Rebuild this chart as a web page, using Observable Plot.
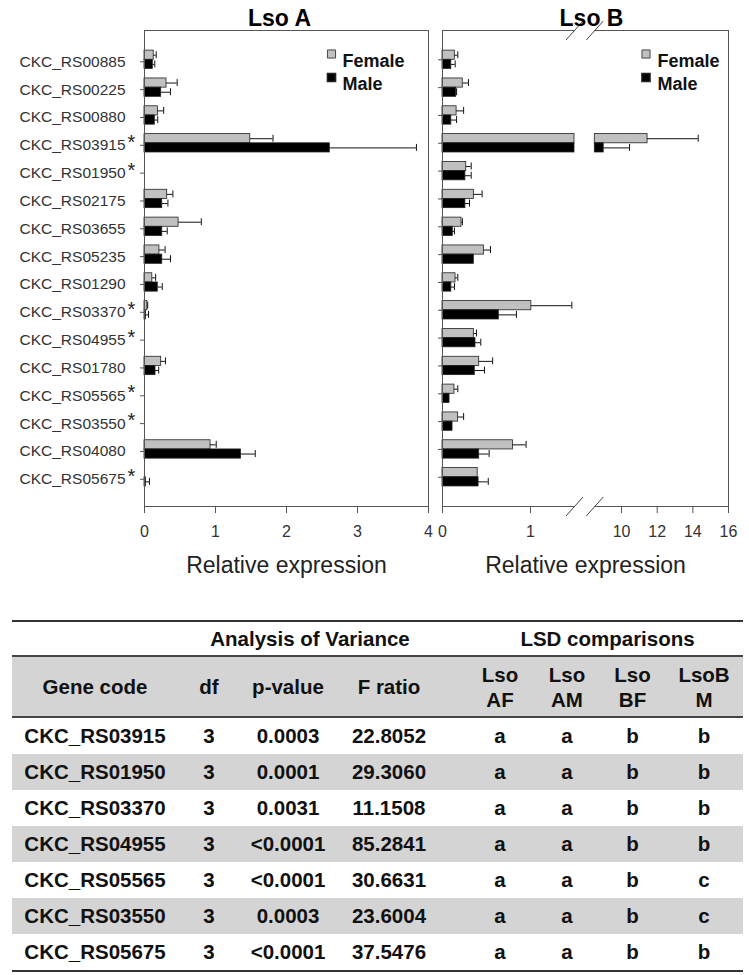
<!DOCTYPE html>
<html><head><meta charset="utf-8">
<script src="https://cdn.jsdelivr.net/npm/d3@7"></script>
<script src="https://cdn.jsdelivr.net/npm/@observablehq/plot@0.6"></script>
<style>
body{margin:0;background:#fff;font-family:"Liberation Sans",Arial,sans-serif;}
#charts{display:flex;width:749px;height:600px;}
#charts svg{display:block;}
table{border-collapse:collapse;table-layout:fixed;margin:20px 0 0 12px;width:731px;font-weight:bold;font-size:20.5px;color:#111;}
td{text-align:center;padding:0;}
tr.top td{height:33px;border-top:2px solid #333;}
tr.head td{height:59px;background:#d4d4d4;border-top:2px solid #444;border-bottom:2px solid #444;line-height:25px;}
tr.data td{height:36px;}
tr.data.gray td{background:#d4d4d4;}
tr.data.last td{border-bottom:2px solid #333;}
</style></head>
<body>
<div id="charts"></div>
<table id="tbl"></table>
<script>
// ---- chart data ----
const genes = ["CKC_RS00885","CKC_RS00225","CKC_RS00880","CKC_RS03915","CKC_RS01950","CKC_RS02175","CKC_RS03655","CKC_RS05235","CKC_RS01290","CKC_RS03370","CKC_RS04955","CKC_RS01780","CKC_RS05565","CKC_RS03550","CKC_RS04080","CKC_RS05675"];
const starred = ["CKC_RS03915","CKC_RS01950","CKC_RS03370","CKC_RS04955","CKC_RS05565","CKC_RS03550","CKC_RS05675"];
const aFemale    = [0.13,0.31,0.19,1.49,0,0.32,0.48,0.21,0.11,0.04,0,0.235,0,0,0.93,0];
const aFemaleErr = [0.035,0.15,0.08,0.32,0,0.08,0.32,0.08,0.047,0.005,0,0.06,0,0,0.08,0];
const aMale      = [0.117,0.235,0.145,2.61,0,0.25,0.25,0.25,0.187,0.02,0,0.155,0,0,1.36,0.02];
const aMaleErr   = [0.028,0.13,0.042,1.22,0,0.08,0.07,0.116,0.063,0.036,0,0.045,0,0,0.2,0.05];
const bFemale    = [0.14,0.23,0.16,11.46,0.27,0.356,0.216,0.47,0.148,1.01,0.356,0.417,0.136,0.178,0.80,0.40];
const bFemaleErr = [0.034,0.065,0.08,2.84,0.056,0.094,0.01,0.075,0.026,0.46,0.03,0.153,0.038,0.062,0.15,0];
const bMale      = [0.10,0.155,0.10,9.0,0.26,0.26,0.117,0.356,0.10,0.64,0.375,0.367,0.08,0.114,0.417,0.41];
const bMaleErr   = [0.044,0.005,0.06,1.45,0.066,0.047,0.019,0,0.036,0.20,0.06,0.11,0,0,0.113,0.11];
const aTicks = [0,1,2,3,4];
const bTicks = [0,1,10,12,14,16];
const bBreak = [1.5, 8.5];
const panelTitles = ["Lso A","Lso B"];
const seriesNames = ["Female","Male"];
const axisTitle = "Relative expression";

// ---- table data ----
const tGenes = ["CKC_RS03915","CKC_RS01950","CKC_RS03370","CKC_RS04955","CKC_RS05565","CKC_RS03550","CKC_RS05675"];
const tDf = [3,3,3,3,3,3,3];
const tP = ["0.0003","0.0001","0.0031","<0.0001","<0.0001","0.0003","<0.0001"];
const tF = ["22.8052","29.3060","11.1508","85.2841","30.6631","23.6004","37.5476"];
const lsdAF = ["a","a","a","a","a","a","a"];
const lsdAM = ["a","a","a","a","a","a","a"];
const lsdBF = ["b","b","b","b","b","b","b"];
const lsdBM = ["b","b","b","b","c","c","b"];
const tHeaders = ["Gene code","df","p-value","F ratio","Lso<br>AF","Lso<br>AM","Lso<br>BF","LsoB<br>M"];
const tGroups = ["Analysis of Variance","LSD comparisons"];

const FONT = '"Liberation Sans", Arial, sans-serif';
const H = 600, yDomain = [-1.053, 16.05], yRange = [30, 506];
const bh = 0.33;
const FEM = "#c0c0c0", MAL = "#000000", EDGE = "#222", FRAME = "#555";
const idx = d3.range(genes.length);

function rows(F, Fe, M, Me) {
  return idx.map(i => ({i, f: F[i], fe: Fe[i], m: M[i], me: Me[i], star: starred.includes(genes[i])}));
}
function errMarks(rs) {
  const f = rs.filter(d => d.fe > 0), m = rs.filter(d => d.me > 0);
  return [
    Plot.ruleY(f, {y: d => d.i - bh/2, x1: "f", x2: d => d.f + d.fe, stroke: "#111"}),
    Plot.ruleX(f, {x: d => d.f + d.fe, y1: d => d.i - bh + 0.04, y2: d => d.i - 0.04, stroke: "#111"}),
    Plot.ruleY(m, {y: d => d.i + bh/2, x1: "m", x2: d => d.m + d.me, stroke: "#111"}),
    Plot.ruleX(m, {x: d => d.m + d.me, y1: d => d.i + 0.04, y2: d => d.i + bh - 0.04, stroke: "#111"})
  ];
}
function legend(sqDx, txDx) {
  return [
    Plot.dot([0], {frameAnchor: "top-right", dx: sqDx, dy: 23.5, symbol: "square", r: 4.6, fill: FEM, stroke: EDGE, strokeWidth: 0.8}),
    Plot.dot([0], {frameAnchor: "top-right", dx: sqDx, dy: 47, symbol: "square", r: 4.6, fill: MAL, stroke: EDGE}),
    Plot.text([seriesNames[0]], {frameAnchor: "top-right", dx: txDx, dy: 23.5, textAnchor: "start", fontSize: 18, fontWeight: "bold", fill: "#111"}),
    Plot.text([seriesNames[1]], {frameAnchor: "top-right", dx: txDx, dy: 47, textAnchor: "start", fontSize: 18, fontWeight: "bold", fill: "#111"})
  ];
}
function titles(t, dx) {
  return [
    Plot.text([t], {frameAnchor: "top", dy: -20.4, dx, fontSize: 23, fontWeight: "bold", fill: "#000"}),
    Plot.text([axisTitle], {frameAnchor: "bottom", dy: 66, fontSize: 23, fill: "#222"})
  ];
}

// ---- Panel A ----
const rA = rows(aFemale, aFemaleErr, aMale, aMaleErr);
const plotA = Plot.plot({
  width: 437, height: H, marginLeft: 144, marginRight: 9, marginTop: 30, marginBottom: 94,
  style: {fontFamily: FONT, background: "white", color: "#333", overflow: "visible"},
  x: {domain: [0, 4], range: [144, 428]},
  y: {domain: yDomain, range: yRange},
  marks: [
    Plot.rect(rA.filter(d => d.f > 0), {x1: 0, x2: "f", y1: d => d.i - bh, y2: "i", fill: FEM, stroke: EDGE, strokeWidth: 0.8}),
    Plot.rect(rA.filter(d => d.m > 0), {x1: 0, x2: "m", y1: "i", y2: d => d.i + bh, fill: MAL, stroke: EDGE, strokeWidth: 0.8}),
    ...errMarks(rA),
    Plot.frame({stroke: FRAME}),
    Plot.axisX(aTicks, {tickSize: 7, tickPadding: 12, fontSize: 16, label: null, stroke: FRAME}),
    Plot.axisY(idx, {tickFormat: i => genes[i], tickSize: 4, tickPadding: 15, fontSize: 15.5, label: null, stroke: FRAME, dy: 2}),
    Plot.text(rA.filter(d => d.star), {x: 0, y: "i", text: () => "*", dx: -17, dy: -1, textAnchor: "start", fontSize: 20, fill: "#222"}),
    ...legend(-97, -86),
    ...titles(panelTitles[0], -7)
  ]
});

// ---- Panel B (broken axis via a piecewise transform of the linear x scale) ----
const xs = d3.scaleLinear([0, bBreak[0], bBreak[1], 16], [0, 132, 152.3, 286]);
const rB = rows(bFemale, bFemaleErr, bMale, bMaleErr);
const segs = (key) => rB.filter(d => d[key] > 0).flatMap(d => {
  const out = [{i: d.i, x1: 0, x2: Math.min(d[key], bBreak[0])}];
  if (d[key] > bBreak[1]) out.push({i: d.i, x1: bBreak[1], x2: d[key]});
  return out;
});
const ys = d3.scaleLinear(yDomain, yRange);
const slashes = [];
for (const b of bBreak) for (const yv of yDomain)
  slashes.push({x1: xs.invert(xs(b) - 8.5), x2: xs.invert(xs(b) + 8.5), y1: ys.invert(ys(yv) + 9.5), y2: ys.invert(ys(yv) - 9.5)});
const edges = [{x1: 0, x2: bBreak[0]}, {x1: bBreak[1], x2: 16}].flatMap(s => yDomain.map(y => ({...s, y})));

const plotB = Plot.plot({
  width: 312, height: H, marginLeft: 5, marginRight: 21, marginTop: 30, marginBottom: 94,
  style: {fontFamily: FONT, background: "white", color: "#333", overflow: "visible"},
  x: {transform: v => xs(v), domain: [0, 286], range: [5, 291]},
  y: {domain: yDomain, range: yRange},
  marks: [
    Plot.rect(segs("f"), {x1: "x1", x2: "x2", y1: d => d.i - bh, y2: "i", fill: FEM, stroke: EDGE, strokeWidth: 0.8}),
    Plot.rect(segs("m"), {x1: "x1", x2: "x2", y1: "i", y2: d => d.i + bh, fill: MAL, stroke: EDGE, strokeWidth: 0.8}),
    ...errMarks(rB),
    Plot.ruleX([0, 16], {y1: yDomain[0], y2: yDomain[1], stroke: FRAME}),
    Plot.ruleY(edges, {y: "y", x1: "x1", x2: "x2", stroke: FRAME}),
    Plot.link(slashes, {x1: "x1", y1: "y1", x2: "x2", y2: "y2", stroke: "#444"}),
    Plot.axisX(bTicks, {tickSize: 7, tickPadding: 12, fontSize: 16, label: null, stroke: FRAME, tickFormat: d => String(d)}),
    Plot.axisY(idx, {tickFormat: () => "", tickSize: 4, label: null, stroke: FRAME}),
    ...legend(-82.5, -71),
    ...titles(panelTitles[1], 6)
  ]
});

document.getElementById("charts").append(plotA, plotB);

// ---- Table ----
const tbl = document.getElementById("tbl");
const widths = [166, 62, 96, 106, 92, 66, 65, 78];
let html = "<colgroup>" + widths.map(w => `<col style="width:${w}px">`).join("") + "</colgroup>";
html += `<tr class="top"><td></td><td colspan="3">${tGroups[0]}</td><td colspan="4" style="padding-left:30px">${tGroups[1]}</td></tr>`;
html += `<tr class="head">` + tHeaders.map((h, j) => `<td${j === 4 ? ' style="padding-left:24px"' : ''}>${h}</td>`).join("") + `</tr>`;
tGenes.forEach((g, i) => {
  const cls = "data" + (i % 2 ? " gray" : "") + (i === tGenes.length - 1 ? " last" : "");
  const cells = [g, tDf[i], tP[i], tF[i], lsdAF[i], lsdAM[i], lsdBF[i], lsdBM[i]];
  html += `<tr class="${cls}">` + cells.map((c, j) => `<td${j === 4 ? ' style="padding-left:24px"' : ''}>${String(c).replace("<", "&lt;")}</td>`).join("") + `</tr>`;
});
tbl.innerHTML = html;
</script>
</body></html>
